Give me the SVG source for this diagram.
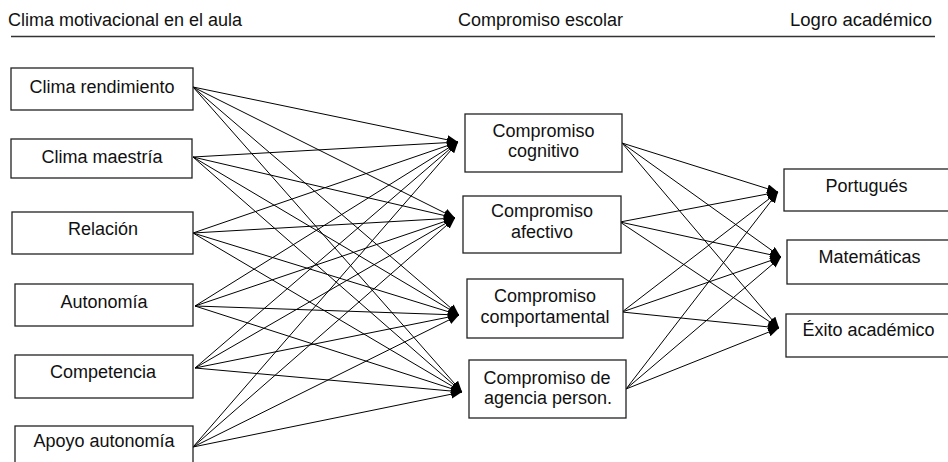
<svg xmlns="http://www.w3.org/2000/svg" width="948" height="462" viewBox="0 0 948 462">
<style>
text{font-family:"Liberation Sans",Arial,sans-serif;font-size:18px;fill:#111;text-anchor:middle}
.hd{text-anchor:start}
.box{fill:#fff;stroke:#222;stroke-width:1.3}
.c line{stroke:#000;stroke-width:1;marker-end:url(#ah)}
</style>
<defs>
<marker id="ah" markerUnits="userSpaceOnUse" markerWidth="11" markerHeight="9" refX="11" refY="4.5" orient="auto">
<path d="M0,0 L11,4.5 L0,9 z" fill="#000"/>
</marker>
</defs>
<rect width="948" height="462" fill="#fff"/>
<g id="header">
<text class="hd" x="8" y="26">Clima motivacional en el aula</text>
<text class="hd" x="458" y="26">Compromiso escolar</text>
<text class="hd" x="790" y="26" textLength="142" lengthAdjust="spacingAndGlyphs">Logro académico</text>
<line x1="11" y1="36.5" x2="935" y2="36.5" stroke="#333" stroke-width="1.5"/>
</g>
<g class="c" id="connectors">
<line x1="193" y1="87" x2="458" y2="142"/>
<line x1="193" y1="87" x2="455" y2="218"/>
<line x1="193" y1="87" x2="459" y2="315"/>
<line x1="193" y1="87" x2="462" y2="392"/>
<line x1="193" y1="157" x2="458" y2="142"/>
<line x1="193" y1="157" x2="455" y2="218"/>
<line x1="193" y1="157" x2="459" y2="315"/>
<line x1="193" y1="157" x2="462" y2="392"/>
<line x1="193" y1="233" x2="458" y2="142"/>
<line x1="193" y1="233" x2="455" y2="218"/>
<line x1="193" y1="233" x2="459" y2="315"/>
<line x1="193" y1="233" x2="462" y2="392"/>
<line x1="195" y1="306" x2="458" y2="142"/>
<line x1="195" y1="306" x2="455" y2="218"/>
<line x1="195" y1="306" x2="459" y2="315"/>
<line x1="195" y1="306" x2="462" y2="392"/>
<line x1="195" y1="368" x2="458" y2="142"/>
<line x1="195" y1="368" x2="455" y2="218"/>
<line x1="195" y1="368" x2="459" y2="315"/>
<line x1="195" y1="368" x2="462" y2="392"/>
<line x1="193" y1="447" x2="458" y2="142"/>
<line x1="193" y1="447" x2="455" y2="218"/>
<line x1="193" y1="447" x2="459" y2="315"/>
<line x1="193" y1="447" x2="462" y2="392"/>
<line x1="622" y1="143" x2="778" y2="192"/>
<line x1="622" y1="143" x2="781" y2="257"/>
<line x1="622" y1="143" x2="779" y2="328"/>
<line x1="620" y1="222" x2="778" y2="192"/>
<line x1="620" y1="222" x2="781" y2="257"/>
<line x1="620" y1="222" x2="779" y2="328"/>
<line x1="622" y1="312" x2="778" y2="192"/>
<line x1="622" y1="312" x2="781" y2="257"/>
<line x1="622" y1="312" x2="779" y2="328"/>
<line x1="626" y1="389" x2="778" y2="192"/>
<line x1="626" y1="389" x2="781" y2="257"/>
<line x1="626" y1="389" x2="779" y2="328"/>
</g>
<g id="clima-rendimiento"><rect class="box" x="11" y="68" width="182" height="42"/><text x="102" y="93">Clima rendimiento</text></g>
<g id="clima-maestria"><rect class="box" x="11" y="139" width="181" height="39"/><text x="102" y="163">Clima maestría</text></g>
<g id="relacion"><rect class="box" x="12" y="212" width="181" height="42"/><text x="103" y="235">Relación</text></g>
<g id="autonomia"><rect class="box" x="15" y="284" width="178" height="42"/><text x="104" y="308">Autonomía</text></g>
<g id="competencia"><rect class="box" x="15" y="355" width="178" height="43"/><text x="103" y="378">Competencia</text></g>
<g id="apoyo-autonomia"><rect class="box" x="15" y="426" width="178" height="44"/><text x="104" y="447">Apoyo autonomía</text></g>
<g id="compromiso-cognitivo"><rect class="box" x="465" y="114" width="157" height="58"/><text x="543.5" y="137">Compromiso</text><text x="543.5" y="157">cognitivo</text></g>
<g id="compromiso-afectivo"><rect class="box" x="463" y="196" width="158" height="57"/><text x="542" y="217">Compromiso</text><text x="542" y="238">afectivo</text></g>
<g id="compromiso-comportamental"><rect class="box" x="467" y="279" width="156" height="59"/><text x="545" y="302">Compromiso</text><text x="545" y="323">comportamental</text></g>
<g id="compromiso-agencia"><rect class="box" x="469" y="360" width="157" height="58"/><text x="547" y="384">Compromiso de</text><text x="548" y="404">agencia person.</text></g>
<g id="portugues"><rect class="box" x="784" y="169" width="180" height="42"/><text x="866.5" y="192">Portugués</text></g>
<g id="matematicas"><rect class="box" x="787" y="240" width="180" height="44"/><text x="869.5" y="263">Matemáticas</text></g>
<g id="exito-academico"><rect class="box" x="786" y="314" width="180" height="43"/><text x="868.5" y="336">Éxito académico</text></g>
</svg>
